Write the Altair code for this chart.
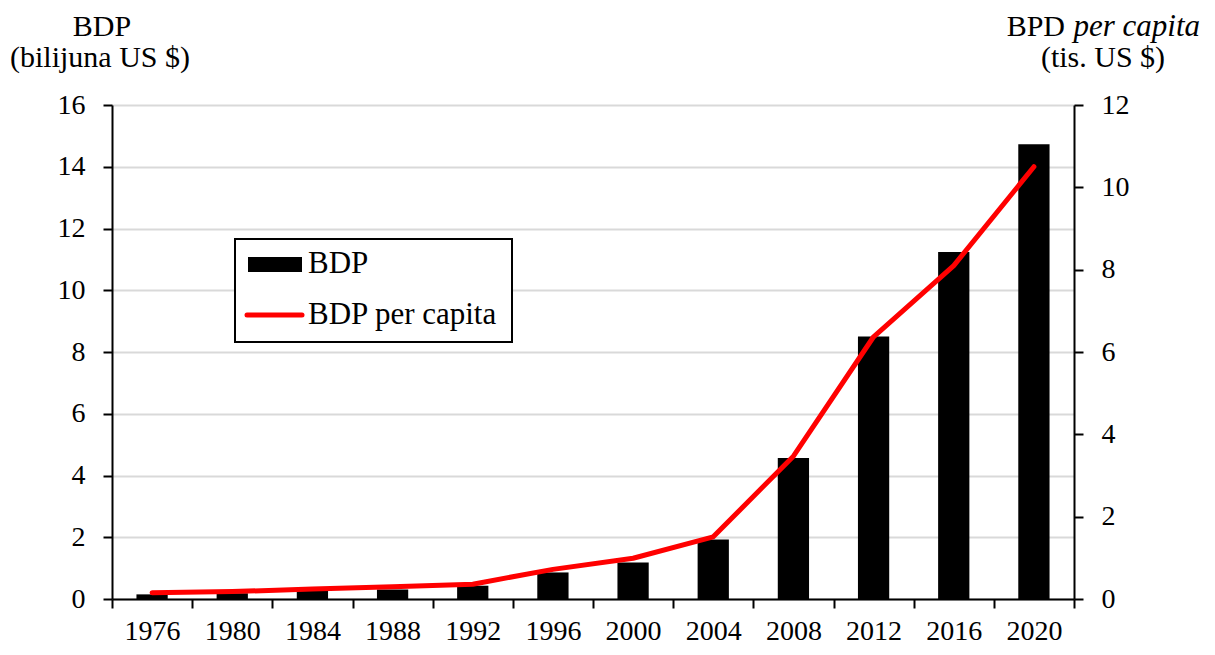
import altair as alt
import pandas as pd

years = ["1976", "1980", "1984", "1988", "1992", "1996", "2000", "2004", "2008", "2012", "2016", "2020"]
gdp = [0.15, 0.19, 0.26, 0.31, 0.43, 0.86, 1.18, 1.93, 4.57, 8.50, 11.24, 14.73]
gdp_pc = [0.15, 0.18, 0.24, 0.30, 0.36, 0.72, 0.99, 1.51, 3.47, 6.37, 8.10, 10.50]
left_ticks = [0, 2, 4, 6, 8, 10, 12, 14, 16]
right_ticks = [0, 2, 4, 6, 8, 10, 12]

df = pd.DataFrame({"year": years, "gdp": gdp, "pc": gdp_pc})

FONT = "Liberation Serif, Times New Roman, DejaVu Serif, serif"
W, H = 962, 494

x_enc = alt.X("year:O", sort=years,
              scale=alt.Scale(paddingInner=0, paddingOuter=0),
              axis=alt.Axis(title=None, labelAngle=0, tickBand="extent",
                            labelFont=FONT, labelFontSize=28, labelColor="black",
                            labelPadding=9, tickSize=9, tickWidth=2, tickColor="black",
                            domainColor="black", domainWidth=2, grid=False))

bars = alt.Chart(df).mark_bar(color="black", width=alt.RelativeBandSize(0.39)).encode(
    x=x_enc,
    y=alt.Y("gdp:Q", scale=alt.Scale(domain=[0, 16], nice=False),
            axis=alt.Axis(title=None, values=left_ticks, orient="left",
                          labelFont=FONT, labelFontSize=28, labelColor="black",
                          labelPadding=18, tickSize=9, tickWidth=2, tickColor="black",
                          domainColor="black", domainWidth=2,
                          grid=True, gridColor="#d9d9d9", gridWidth=2)),
)

line = alt.Chart(df).mark_line(color="#ff0000", strokeWidth=5, strokeCap="round",
                               strokeJoin="round").encode(
    x=alt.X("year:O", sort=years),
    y=alt.Y("pc:Q", scale=alt.Scale(domain=[0, 12], nice=False),
            axis=alt.Axis(title=None, values=right_ticks, orient="right",
                          labelFont=FONT, labelFontSize=28, labelColor="black",
                          labelPadding=18, tickSize=9, tickWidth=2, tickColor="black",
                          domainColor="black", domainWidth=2, grid=False)),
)

one = alt.Data(values=[{}])

legend_box = alt.Chart(one).mark_rect(fill="white", stroke="black", strokeWidth=2).encode(
    x=alt.value(123), x2=alt.value(400), y=alt.value(134), y2=alt.value(237))
legend_bar = alt.Chart(one).mark_rect(fill="black").encode(
    x=alt.value(136), x2=alt.value(190), y=alt.value(152), y2=alt.value(167))
legend_line = alt.Chart(one).mark_rule(color="#ff0000", strokeWidth=5, strokeCap="round").encode(
    x=alt.value(135), x2=alt.value(190), y=alt.value(210))
legend_t1 = alt.Chart(one).mark_text(text="BDP", font=FONT, fontSize=31, align="left",
                                     baseline="alphabetic", color="black").encode(
    x=alt.value(196), y=alt.value(168))
legend_t2 = alt.Chart(one).mark_text(text="BDP per capita", font=FONT, fontSize=31, align="left",
                                     baseline="alphabetic", color="black").encode(
    x=alt.value(196), y=alt.value(219))

def label(txt, x, y, align="center", style="normal", size=30):
    return alt.Chart(one).mark_text(text=txt, font=FONT, fontSize=size, align=align,
                                    baseline="alphabetic", color="black",
                                    fontStyle=style).encode(x=alt.value(x), y=alt.value(y))

t_left1 = label("BDP", -10, -69)
t_left2 = label("(bilijuna US $)", -12, -38)
t_right1 = label("BPD", 953, -69, align="right")
t_right2 = label("per capita", 1088, -69, align="right", style="italic", size=31)
t_right3 = label("(tis. US $)", 991, -38)

chart = alt.layer(
    bars, line, legend_box, legend_bar, legend_line, legend_t1, legend_t2,
    t_left1, t_left2, t_right1, t_right2, t_right3,
).resolve_scale(y="independent").properties(
    width=W, height=H,
    autosize=alt.AutoSizeParams(type="none"),
    padding={"left": 104, "top": 97, "right": 132, "bottom": 47},
).configure_view(stroke=None).configure(background="white")

chart.save("out.html", embed_options={"renderer": "svg", "actions": False})
